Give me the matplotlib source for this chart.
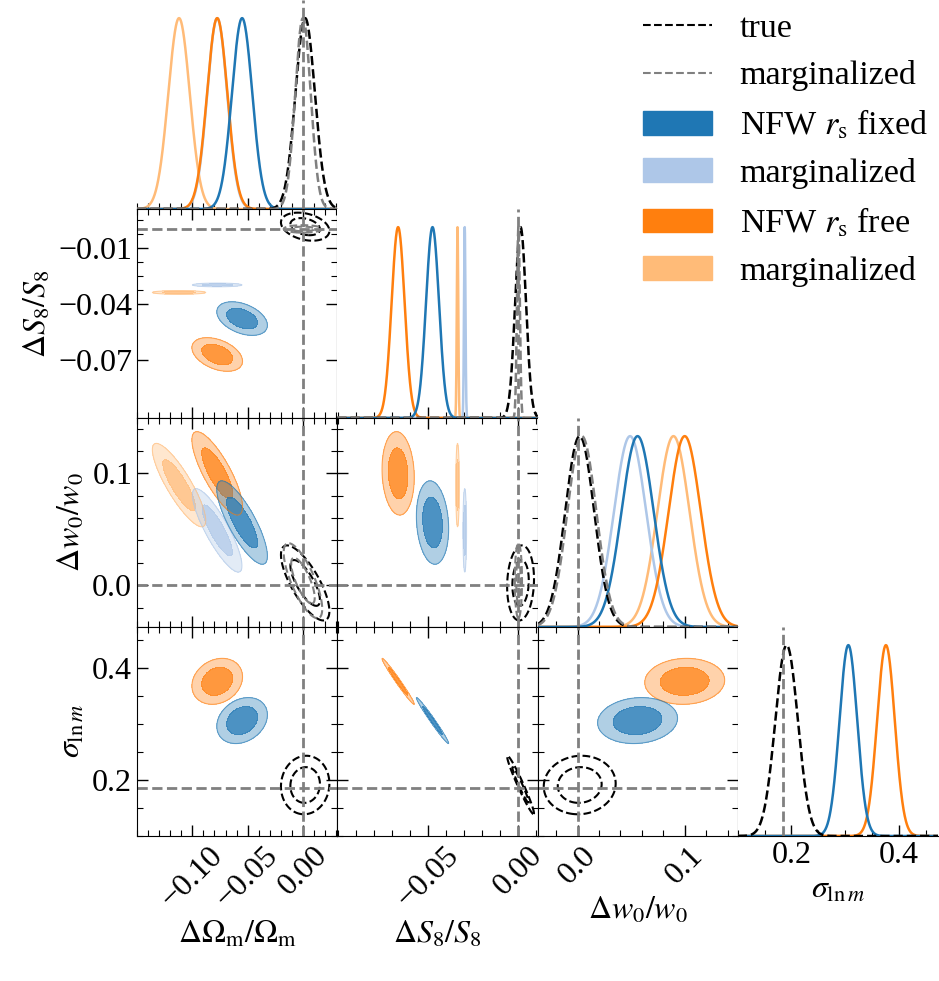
import numpy as np
import matplotlib

matplotlib.use("Agg")
import matplotlib.pyplot as plt
from matplotlib.colors import to_rgba
from matplotlib.lines import Line2D
from matplotlib.patches import Patch
from matplotlib.ticker import FixedLocator, FuncFormatter

plt.rcParams["font.family"] = ["Liberation Serif", "DejaVu Serif"]
plt.rcParams["mathtext.fontset"] = "stix"
plt.rcParams["font.size"] = 23

# parameters: dOm/Om, dS8/S8, dw0/w0, sigma_lnm
param_labels = [
    r"$\Delta\Omega_{\rm m}/\Omega_{\rm m}$",
    r"$\Delta S_8/S_8$",
    r"$\Delta w_0/w_0$",
    r"$\sigma_{\ln m}$",
]
param_ranges = [(-0.150, 0.031), (-0.1006, 0.0106), (-0.0374, 0.1495), (0.10, 0.473)]
truth = [0.0, 0.0, 0.0, 0.185]

major_ticks = [[-0.10, -0.05, 0.00], [-0.05, 0.00], [0.0, 0.1], [0.2, 0.4]]
row1_ticks = [-0.01, -0.04, -0.07]
tick_decimals = [2, 2, 1, 1]
minor_step = [0.01, 0.01, 0.02, 0.05]

# marginal means / std devs (nan = not constrained)
true_mean = [0.002, 0.0012, 0.002, 0.191]
true_std = [0.0088, 0.0030, 0.0135, 0.021]
true_marg_mean = [0.0, 0.0, 0.004, np.nan]
true_marg_std = [0.0070, 0.0008, 0.0135, np.nan]
fixed_mean = [-0.0550, -0.0477, 0.0560, 0.306]
fixed_std = [0.0092, 0.0036, 0.0150, 0.0165]
fixed_marg_mean = [-0.0775, -0.0298, 0.0490, np.nan]
fixed_marg_std = [0.0090, 0.0004, 0.0150, np.nan]
free_mean = [-0.0775, -0.0668, 0.1000, 0.376]
free_std = [0.0092, 0.0036, 0.0150, 0.0165]
free_marg_mean = [-0.1120, -0.0338, 0.0895, np.nan]
free_marg_std = [0.0097, 0.0004, 0.0150, np.nan]

# correlation coefficients for pairs (i, j)
pairs = [(0, 1), (0, 2), (0, 3), (1, 2), (1, 3), (2, 3)]
true_rho = [-0.30, -0.75, 0.05, 0.10, -0.97, 0.05]
true_marg_rho = [0.0, -0.75, 0.0, 0.0, 0.0, 0.0]
fixed_rho = [-0.40, -0.80, 0.25, -0.15, -0.985, 0.10]
fixed_marg_rho = [0.0, -0.85, 0.0, 0.0, 0.0, 0.0]
free_rho = [-0.40, -0.80, 0.20, -0.10, -0.985, 0.05]
free_marg_rho = [0.0, -0.85, 0.0, 0.0, 0.0, 0.0]

BLUE = "#1f77b4"
LBLUE = "#aec7e8"
ORANGE = "#ff7f0e"
LORANGE = "#ffbb78"
GRAY = "#808080"

filled = [
    (free_marg_mean, free_marg_std, free_marg_rho, LORANGE),
    (fixed_marg_mean, fixed_marg_std, fixed_marg_rho, LBLUE),
    (free_mean, free_std, free_rho, ORANGE),
    (fixed_mean, fixed_std, fixed_rho, BLUE),
]
dashed = [
    (true_mean, true_std, true_rho, "k", 1.5),
    (true_marg_mean, true_marg_std, true_marg_rho, GRAY, 1.5),
]
LEVELS = [0.0, 2.30, 6.18]


def chi2_map(mx, my, sx, sy, rho, xr, yr, n=800):
    x = np.linspace(xr[0], xr[1], n)
    y = np.linspace(yr[0], yr[1], n)
    X, Y = np.meshgrid(x, y)
    dx = (X - mx) / sx
    dy = (Y - my) / sy
    return X, Y, (dx**2 - 2 * rho * dx * dy + dy**2) / (1 - rho**2)


def fmt(dec):
    return FuncFormatter(lambda v, p: f"{v:.{dec}f}".replace("-", "\u2212"))


fig = plt.figure(figsize=(9.39, 9.81), dpi=100)
W, H = 939.0, 981.0
left_px, col_w, row_h = 137.0, 200.25, 209.0

axes = {}
for i in range(4):
    for j in range(i + 1):
        rect = [
            (left_px + j * col_w) / W,
            1 - row_h * (i + 1) / H,
            col_w / W,
            row_h / H,
        ]
        axes[(i, j)] = fig.add_axes(rect)

for i in range(4):
    for j in range(i + 1):
        ax = axes[(i, j)]
        xlo, xhi = param_ranges[j]
        if i == j:
            x = np.linspace(xlo, xhi, 1000)
            for m, s, _, c in filled:
                if np.isnan(m[i]):
                    continue
                ax.plot(x, np.exp(-0.5 * ((x - m[i]) / s[i]) ** 2), color=c, lw=1.8)
            for m, s, _, c, lw in dashed:
                if np.isnan(m[i]):
                    continue
                ax.plot(x, np.exp(-0.5 * ((x - m[i]) / s[i]) ** 2), color=c,
                        lw=1.8, ls="--")
            ax.axvline(truth[j], color=GRAY, ls="--", lw=2)
            ax.set_ylim(0, 1.095)
            for side in ("left", "right", "top"):
                ax.spines[side].set_visible(False)
            ax.set_yticks([])
            ax.tick_params(axis="x", direction="in", top=False, which="both")
        else:
            k = pairs.index((j, i))
            for m, s, r, c in filled:
                if np.isnan(m[i]) or np.isnan(m[j]):
                    continue
                X, Y, Z = chi2_map(m[j], m[i], s[j], s[i], r[k],
                                   param_ranges[j], param_ranges[i])
                ax.contourf(X, Y, Z, levels=LEVELS,
                            colors=[to_rgba(c, 0.8), to_rgba(c, 0.35)])
                ax.contour(X, Y, Z, levels=[6.18], colors=[c], linewidths=0.8,
                           alpha=0.6)
            for m, s, r, c, lw in dashed:
                if np.isnan(m[i]) or np.isnan(m[j]):
                    continue
                X, Y, Z = chi2_map(m[j], m[i], s[j], s[i], r[k],
                                   param_ranges[j], param_ranges[i])
                ax.contour(X, Y, Z, levels=LEVELS[1:], colors=[c],
                           linewidths=lw, linestyles="--")
            ax.axvline(truth[j], color=GRAY, ls="--", lw=2)
            ax.axhline(truth[i], color=GRAY, ls="--", lw=2)
            ax.tick_params(direction="in", top=True, right=True, which="both")

        ax.tick_params(which="major", length=8, width=1)
        ax.tick_params(which="minor", length=4, width=0.8)
        ax.xaxis.set_major_locator(FixedLocator(major_ticks[j]))
        ax.xaxis.set_minor_locator(FixedLocator(np.arange(-1, 1, minor_step[j])))
        ax.xaxis.set_major_formatter(fmt(tick_decimals[j]))
        if i != j:
            if i == 1:
                ax.yaxis.set_major_locator(FixedLocator(row1_ticks))
                ax.yaxis.set_minor_locator(FixedLocator(-0.01 + 0.0075 * np.arange(-4, 20)))
            else:
                ax.yaxis.set_major_locator(FixedLocator(major_ticks[i]))
                ax.yaxis.set_minor_locator(FixedLocator(np.arange(-1, 1, minor_step[i])))
            ax.yaxis.set_major_formatter(fmt(tick_decimals[i]))
            ax.set_ylim(param_ranges[i])
        ax.set_xlim(param_ranges[j])

        if i == 3:
            ax.set_xlabel(param_labels[j])
            if j < 3:
                for t in ax.get_xticklabels():
                    t.set_rotation(45)
        else:
            ax.tick_params(axis="x", labelbottom=False)
        if j == 0 and i > 0:
            ax.set_ylabel(param_labels[i])
        else:
            ax.tick_params(axis="y", labelleft=False)

fig.align_ylabels([axes[(i, 0)] for i in range(1, 4)])

handles = [
    Line2D([], [], color="k", ls="--", lw=1.5),
    Line2D([], [], color=GRAY, ls="--", lw=1.5),
    Patch(color=BLUE),
    Patch(color=LBLUE),
    Patch(color=ORANGE),
    Patch(color=LORANGE),
]
names = [
    "true",
    "marginalized",
    r"NFW $r_{\rm s}$ fixed",
    "marginalized",
    r"NFW $r_{\rm s}$ free",
    "marginalized",
]
fig.legend(handles, names, loc="upper right", bbox_to_anchor=(1.0205, 1.018),
           frameon=False, fontsize=24.5, handlelength=2.05, handleheight=0.7,
           labelspacing=0.49, handletextpad=0.8)

fig.savefig("out.png", dpi=100)
